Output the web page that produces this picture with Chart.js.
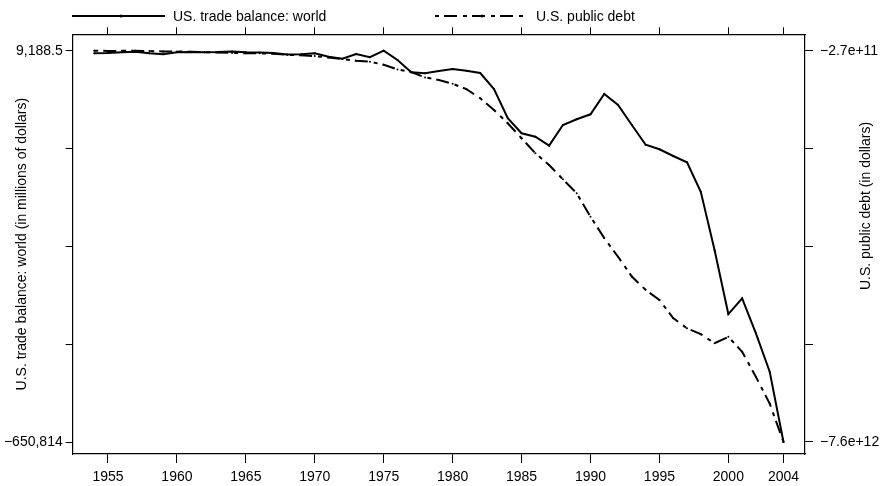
<!DOCTYPE html>
<html>
<head>
<meta charset="utf-8">
<script src="https://cdn.jsdelivr.net/npm/chart.js@4/dist/chart.umd.min.js"></script>
<style>
  body { margin: 0; background: #fff; }
  #wrap { width: 882px; height: 486px; }
</style>
</head>
<body>
<div id="wrap"><canvas id="tradeChart"></canvas></div>
<script>
const years = [1954, 1955, 1956, 1957, 1958, 1959, 1960, 1961, 1962, 1963,
  1964, 1965, 1966, 1967, 1968, 1969, 1970, 1971, 1972, 1973,
  1974, 1975, 1976, 1977, 1978, 1979, 1980, 1981, 1982, 1983,
  1984, 1985, 1986, 1987, 1988, 1989, 1990, 1991, 1992, 1993,
  1994, 1995, 1996, 1997, 1998, 1999, 2000, 2001, 2002, 2003, 2004];

// millions of dollars
const tradeBalance = [4800, 5300, 6500, 7500, 4800, 3100, 6500, 7000, 6500, 6800,
  8000, 6600, 6000, 5500, 2600, 3000, 5000, -1000, -4500, 3500,
  -1800, 9188.5, -6500, -27300, -28900, -25100, -21700, -24500, -28400, -55400,
  -104800, -130100, -135900, -151000, -116100, -106500, -98100, -63800, -82400, -116100,
  -149400, -157100, -168400, -179100, -228700, -327000, -435000, -408400, -467500, -532300, -650814];

// dollars
const publicDebt = [-0.271e12, -0.274e12, -0.273e12, -0.271e12, -0.276e12, -0.285e12, -0.286e12, -0.289e12, -0.298e12, -0.306e12,
  -0.312e12, -0.317e12, -0.320e12, -0.326e12, -0.348e12, -0.354e12, -0.371e12, -0.398e12, -0.427e12, -0.458e12,
  -0.475e12, -0.533e12, -0.620e12, -0.67e12, -0.77e12, -0.82e12, -0.89e12, -0.99e12, -1.16e12, -1.38e12,
  -1.63e12, -1.91e12, -2.19e12, -2.41e12, -2.68e12, -2.94e12, -3.38e12, -3.78e12, -4.13e12, -4.50e12,
  -4.75e12, -4.94e12, -5.28e12, -5.47e12, -5.58e12, -5.75e12, -5.63e12, -5.91e12, -6.38e12, -6.88e12, -7.60e12];

const xTicks = [1955, 1960, 1965, 1970, 1975, 1980, 1985, 1990, 1995, 2000, 2004];
const leftTicks = [9188.5, -156312, -320813, -485813, -650814];
const leftLabels = ['9,188.5', '', '', '', '\u2212650,814'];
const rightTicks = [-0.27e12, -2.1025e12, -3.935e12, -5.7675e12, -7.6e12];
const rightLabels = ['\u22122.7e+11', '', '', '', '\u22127.6e+12'];

const FONT = '"Liberation Sans", Arial, sans-serif';
const font = { family: FONT, size: 14 };

// legend across the top plus right axis title (reads bottom to top)
const overlay = {
  id: 'overlay',
  afterDraw(chart) {
    const c = chart.ctx;
    c.save();
    c.font = '14px ' + FONT;
    c.fillStyle = '#000';
    c.strokeStyle = '#000';
    c.lineWidth = 2;
    c.textBaseline = 'middle';

    c.beginPath();
    c.moveTo(72, 16); c.lineTo(165, 16);
    c.stroke();
    c.beginPath(); c.arc(121, 16, 1.6, 0, Math.PI * 2); c.fill();
    c.fillText('US. trade balance: world', 173, 17);

    c.setLineDash([4, 5, 13, 6]);
    c.beginPath();
    c.moveTo(435, 16); c.lineTo(528, 16);
    c.stroke();
    c.setLineDash([]);
    c.beginPath(); c.arc(482, 16, 1.6, 0, Math.PI * 2); c.fill();
    c.fillText('U.S. public debt', 536, 17);

    c.translate(866, 206);
    c.rotate(-Math.PI / 2);
    c.textAlign = 'center';
    c.fillText('U.S. public debt (in dollars)', 0, 0);
    c.restore();
  }
};

const xMin = 1952.44, xMax = 2005.56;
const axisGrid = (len) => ({ drawOnChartArea: false, tickLength: len, color: '#000', tickColor: '#000', lineWidth: 1 });
const axisBorder = { color: '#000', width: 1.2 };

new Chart(document.getElementById('tradeChart'), {
  type: 'line',
  data: {
    datasets: [{
      label: 'US. trade balance: world',
      data: years.map((y, i) => ({ x: y, y: tradeBalance[i] })),
      yAxisID: 'y',
      borderColor: '#000',
      backgroundColor: '#000',
      borderWidth: 2,
      pointRadius: 1,
      pointBorderWidth: 0,
      tension: 0
    }, {
      label: 'U.S. public debt',
      data: years.map((y, i) => ({ x: y, y: publicDebt[i] })),
      yAxisID: 'y2',
      borderColor: '#000',
      backgroundColor: '#000',
      borderWidth: 2,
      borderDash: [4, 5, 13, 6],
      pointRadius: 1,
      pointBorderWidth: 0,
      tension: 0
    }]
  },
  options: {
    responsive: true,
    maintainAspectRatio: false,
    animation: false,
    layout: { padding: 0 },
    plugins: { legend: { display: false }, tooltip: { enabled: false } },
    scales: {
      x: {
        type: 'linear', position: 'bottom', min: xMin, max: xMax,
        afterBuildTicks: s => { s.ticks = xTicks.map(v => ({ value: v })); },
        afterFit: s => { s.height = 32; },
        grid: axisGrid(9),
        border: axisBorder,
        ticks: { font, color: '#000', padding: 6, maxRotation: 0, autoSkip: false, callback: v => String(v) }
      },
      xTop: {
        type: 'linear', position: 'top', min: xMin, max: xMax,
        afterBuildTicks: s => { s.ticks = xTicks.map(v => ({ value: v })); },
        afterFit: s => { s.height = 34.3; },
        grid: axisGrid(7),
        border: axisBorder,
        ticks: { display: false }
      },
      y: {
        type: 'linear', position: 'left', min: -671054, max: 36850,
        afterBuildTicks: s => { s.ticks = leftTicks.map(v => ({ value: v })); },
        afterFit: s => { s.width = 72.7; },
        grid: axisGrid(7),
        border: axisBorder,
        ticks: { font, color: '#000', padding: 3, autoSkip: false, callback: (v, i) => leftLabels[i] },
        title: { display: true, text: 'U.S. trade balance: world (in millions of dollars)', font, color: '#000', padding: { top: 13.3, bottom: 0 } }
      },
      y2: {
        type: 'linear', position: 'right', min: -7.8248e12, max: 0.0372e12,
        afterBuildTicks: s => { s.ticks = rightTicks.map(v => ({ value: v })); },
        afterFit: s => { s.width = 77; },
        grid: axisGrid(8),
        border: axisBorder,
        ticks: { font, color: '#000', padding: 7, autoSkip: false, callback: (v, i) => rightLabels[i] }
      }
    }
  },
  plugins: [overlay]
});
</script>
</body>
</html>
